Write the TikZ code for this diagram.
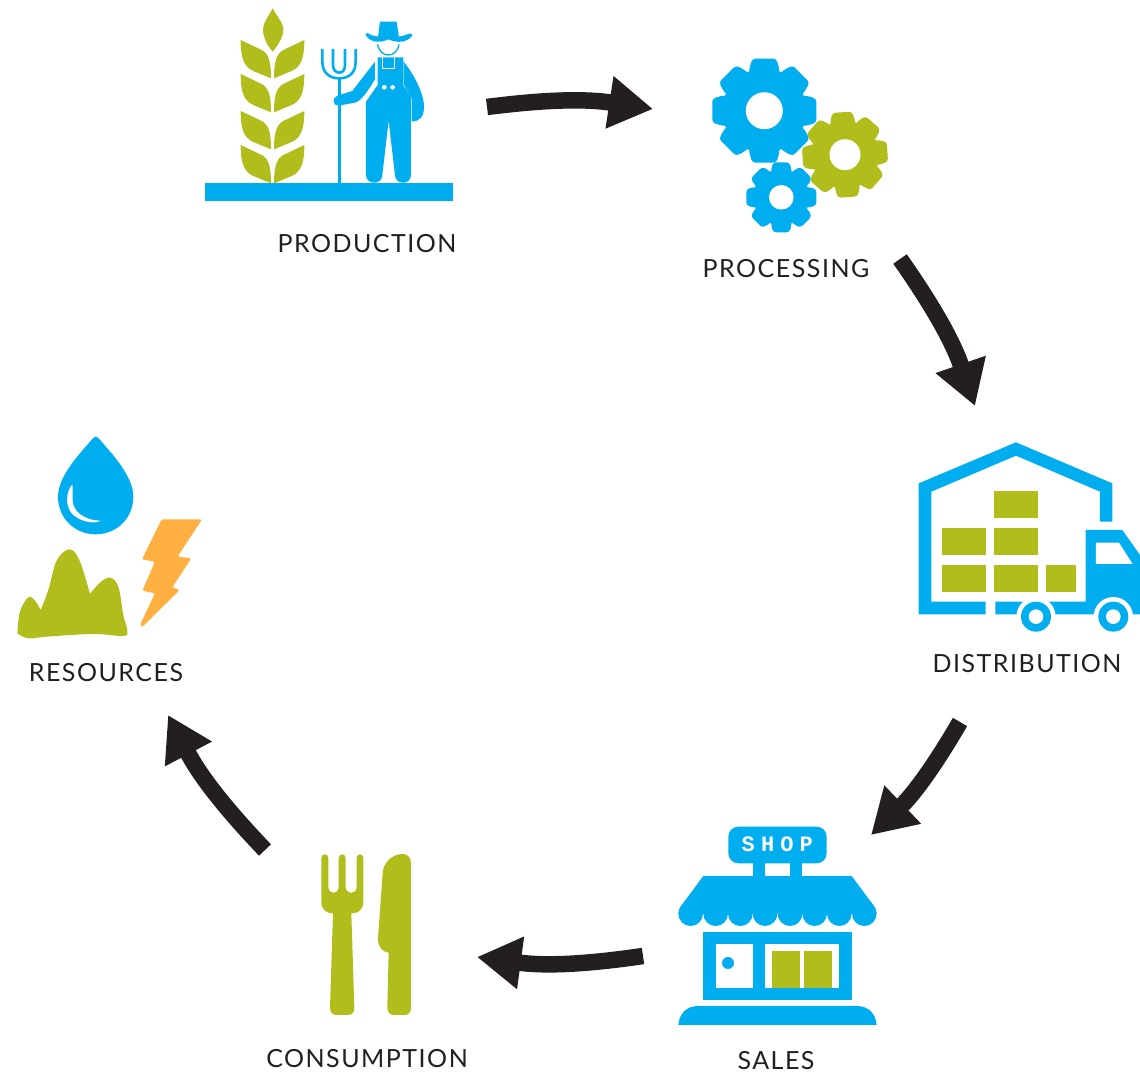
\documentclass[tikz,border=0pt]{standalone}
\usepackage{fontspec}
\usepackage{tikz}
\usetikzlibrary{arrows.meta}
\newfontfamily\labelfont[LetterSpace=6]{Lato}
\newfontfamily\signfont[LetterSpace=28]{Liberation Mono}
\definecolor{iconblue}{RGB}{0,174,239}
\definecolor{icongreen}{RGB}{176,189,27}
\definecolor{iconorange}{RGB}{255,176,64}
\definecolor{arrowdark}{RGB}{35,31,32}
\tikzset{blueicon/.style={fill=iconblue}}
\tikzset{greenicon/.style={fill=icongreen}}
\tikzset{holeicon/.style={fill=white}}
\tikzset{steplabel/.style={text=arrowdark,font=\labelfont\fontsize{25}{28}\selectfont,inner sep=0pt}}
\tikzset{flowarrow/.style={draw=arrowdark,line width=16.5pt,-{Triangle[length=44pt,width=50pt]}}}
\newcommand{\gearicon}[7]{
  \begin{scope}[shift={(#1,#2)},rotate=#6]
    \fill[#7] (0,0) circle [radius=#4];
    \foreach \a in {0,45,...,315} {
      \fill[#7,rotate=\a,rounded corners=3pt] (-.29*#3,-.8*#4) -- (-.29*#3,-#4) -- (-.23*#3,-#3) -- (.23*#3,-#3) -- (.29*#3,-#4) -- (.29*#3,-.8*#4) -- cycle;
    }
    \fill[holeicon] (0,0) circle [radius=#5];
  \end{scope}
}
\begin{document}
\begin{tikzpicture}[x=1pt,y=-1pt]
\useasboundingbox (0,0) rectangle (1140,1076);

% production
\fill[blueicon] (205,183) rectangle (453,201);
\begin{scope}[shift={(200,0)},scale=.3333]
\fill[greenicon] (218,25) .. controls (235,55) and (250,70) .. (250,88) .. controls (250,115) and (230,140) .. (218,155) .. controls (205,140) and (189,115) .. (189,88) .. controls (189,70) and (205,50) .. (218,25) -- cycle;
\foreach \ly in {0,102,213,315} {
  \fill[greenicon,shift={(0,\ly)}] (122,120) -- (185,150) .. controls (208,162) and (213,190) .. (213,235) -- (160,213) .. controls (130,200) and (122,170) .. (122,120) -- cycle;
  \fill[greenicon,shift={(0,\ly)}] (313,120) -- (250,150) .. controls (228,162) and (222,190) .. (222,235) -- (275,213) .. controls (305,200) and (313,170) .. (313,120) -- cycle;
}
% fork
\draw[iconblue,line width=2.6pt] (418,232) -- (418,550);
\draw[iconblue,line width=2.6pt] (367,147) -- (367,185) .. controls (367,220) and (390,235) .. (418,235) .. controls (446,235) and (467,220) .. (467,185) -- (467,147);
\draw[iconblue,line width=2.6pt] (399,147) -- (399,195) .. controls (399,210) and (408,218) .. (418,218) .. controls (428,218) and (435,210) .. (435,195) -- (435,147);
% farmer
\fill[blueicon] (540,65) -- (590,65) -- (597,112) -- (534,112) -- cycle;
\fill[blueicon] (497,105) .. controls (495,98) and (505,98) .. (512,104) .. controls (530,114) and (600,114) .. (620,104) .. controls (628,98) and (640,100) .. (636,108) .. controls (620,128) and (595,130) .. (565,118) .. controls (540,130) and (510,128) .. (497,105) -- cycle;
\draw[iconblue,line width=1.3pt] (533,133) .. controls (537,155) and (550,165) .. (565,165) .. controls (580,165) and (593,155) .. (597,133);
\fill[blueicon] (525,185) -- (457,273) -- (412,287) .. controls (396,292) and (398,318) .. (415,317) -- (465,308) .. controls (485,303) and (505,270) .. (525,238) -- cycle;
\fill[blueicon] (611,185) .. controls (640,220) and (672,280) .. (672,320) .. controls (672,350) and (660,365) .. (635,364) -- (635,295) -- (611,252) -- cycle;
\fill[blueicon] (533,172) -- (610,172) -- (610,255) -- (633,290) -- (633,525) .. controls (633,556) and (585,556) .. (585,525) -- (566,362) -- (547,525) .. controls (547,556) and (498,556) .. (498,525) -- (498,305) -- (533,255) -- cycle;
\draw[white,line width=1pt] (547,170) rectangle (585,207);
\fill[holeicon] (553,262) circle [radius=7];
\fill[holeicon] (578,262) circle [radius=7];
\end{scope}
\node[steplabel,anchor=center] (production) at (367,244) {PRODUCTION};

% processing
\gearicon{764.3}{110.7}{52}{42}{18.5}{0}{blueicon}
\gearicon{845}{154.7}{42.5}{34}{15.5}{4}{greenicon}
\gearicon{781.3}{197.3}{35}{28}{12.3}{0}{blueicon}
\node[steplabel,anchor=center] (processing) at (786,269) {PROCESSING};

% distribution
\begin{scope}[shift={(910,435)},scale=.3333]
\fill[greenicon] (252,168) rectangle (384,249);
\fill[greenicon] (96,279) rectangle (228,360);
\fill[greenicon] (252,279) rectangle (384,360);
\fill[greenicon] (96,390) rectangle (228,471);
\fill[greenicon] (252,390) rectangle (384,471);
\fill[greenicon] (408,390) rectangle (498,471);
\fill[blueicon] (227,538) -- (26,538) -- (26,145) -- (318,22) -- (607,145) -- (607,260) -- (570,260) -- (570,170) -- (318,62) -- (64,170) -- (64,500) -- (227,500) -- cycle;
\fill[blueicon] (256,500) -- (527,500) -- (527,285) -- (637,285) -- (690,360) -- (690,538) -- (256,538) -- cycle;
\fill[holeicon] (558,323) -- (627,323) -- (668,387) -- (558,387) -- cycle;
\foreach \wx in {378,610} {
  \fill[holeicon] (\wx,545) circle [radius=59];
  \fill[blueicon] (\wx,545) circle [radius=45];
  \fill[holeicon] (\wx,545) circle [radius=22];
}
\end{scope}
\node[steplabel,anchor=center] (distribution) at (1027,664) {DISTRIBUTION};

% sales
\begin{scope}[shift={(670,820)},scale=.3333]
\fill[blueicon] (248,125) rectangle (285,170);
\fill[blueicon] (360,125) rectangle (397,170);
\fill[blueicon,rounded corners=10pt] (175,20) rectangle (470,130);
\node[text=white,font=\signfont\bfseries\fontsize{22}{24}\selectfont,inner sep=0pt] (shopsign) at (322,72) {SHOP};
\fill[blueicon] (100,168) -- (545,168) -- (612,258) -- (620,281) -- (25,281) -- (33,258) -- cycle;
\foreach \sx in {62,137,211,285,360,434,508,583} {
  \fill[blueicon] (\sx,281) circle [radius=37];
}
\fill[blueicon] (100,336) rectangle (545,540);
\fill[holeicon] (137,373) rectangle (248,503);
\fill[holeicon] (285,373) rectangle (508,503);
\fill[blueicon] (174,429) circle [radius=18];
\fill[greenicon] (306,393) rectangle (390,503);
\fill[greenicon] (402,393) rectangle (486,503);
\fill[blueicon] (25,615) .. controls (28,580) and (50,558) .. (85,558) -- (560,558) .. controls (595,558) and (617,580) .. (620,615) -- cycle;
\end{scope}
\node[steplabel,anchor=center] (sales) at (776,1061) {SALES};

% consumption
\begin{scope}[shift={(310,845)},scale=.3333]
\fill[greenicon] (34,40) .. controls (34,24) and (55,24) .. (55,40) -- (55,125) .. controls (55,150) and (86,150) .. (86,125) -- (86,40) .. controls (86,24) and (107,24) .. (107,40) -- (107,125) .. controls (107,150) and (140,150) .. (140,125) -- (140,40) .. controls (140,24) and (160,24) .. (160,40) -- (160,170) .. controls (160,195) and (145,205) .. (124,205) -- (133,488) .. controls (133,503) and (125,510) .. (113,510) -- (80,510) .. controls (68,510) and (60,503) .. (60,488) -- (69,205) .. controls (50,205) and (34,195) .. (34,170) -- cycle;
\fill[greenicon] (303,55) .. controls (303,35) and (290,27) .. (278,27) .. controls (245,27) and (219,55) .. (218,85) -- (204,280) .. controls (203,305) and (218,322) .. (236,323) -- (232,488) .. controls (232,503) and (240,510) .. (252,510) -- (283,510) .. controls (295,510) and (303,503) .. (303,488) -- cycle;
\end{scope}
\node[steplabel,anchor=center] (consumption) at (367,1059) {CONSUMPTION};

% resources
\begin{scope}[shift={(10,430)},scale=.3333]
\fill[blueicon] (250,24) .. controls (255,18) and (260,18) .. (265,24) .. controls (310,75) and (370,140) .. (370,200) .. controls (370,265) and (320,313) .. (257,313) .. controls (195,313) and (144,265) .. (144,200) .. controls (144,140) and (205,75) .. (250,24) -- cycle;
\fill[holeicon] (187,163) .. controls (168,185) and (165,225) .. (185,250) .. controls (205,272) and (250,285) .. (272,272) .. controls (240,272) and (200,258) .. (189,222) .. controls (186,205) and (190,180) .. (187,163) -- cycle;
\fill[greenicon] plot[smooth,tension=.6] coordinates {(22,610) (30,545) (55,502) (75,512) (92,540)} -- plot[smooth,tension=.6] coordinates {(92,540) (115,480) (140,392) (178,358) (208,390) (240,492)} -- plot[smooth,tension=.6] coordinates {(240,492) (270,458) (300,443) (325,470) (340,555) (352,602) (340,618) (250,612) (110,620) (55,625) (22,610)} -- cycle;
\fill[iconorange,rounded corners=1.5pt] (455,268) -- (576,268) -- (503,380) -- (544,385) -- (487,472) -- (509,480) -- (396,592) -- (390,585) -- (435,490) -- (397,482) -- (435,395) -- (396,388) -- cycle;
\end{scope}
\node[steplabel,anchor=center] (resources) at (106,673) {RESOURCES};

% arrows
\coordinate (prodOut) at (487,107);
\coordinate (procIn) at (653,109);
\coordinate (procOut) at (900,259);
\coordinate (distIn) at (975,406);
\coordinate (distOut) at (960,722);
\coordinate (salesIn) at (871,835);
\coordinate (salesOut) at (643,956);
\coordinate (consIn) at (477,957);
\coordinate (consOut) at (265,850);
\coordinate (resIn) at (168,715);
\draw[flowarrow] (prodOut) to[bend left=8] (procIn);
\draw[flowarrow] (procOut) to[bend left=8] (distIn);
\draw[flowarrow] (distOut) to[bend left=8] (salesIn);
\draw[flowarrow] (salesOut) to[bend left=8] (consIn);
\draw[flowarrow] (consOut) to[bend left=8] (resIn);

\end{tikzpicture}
\end{document}
